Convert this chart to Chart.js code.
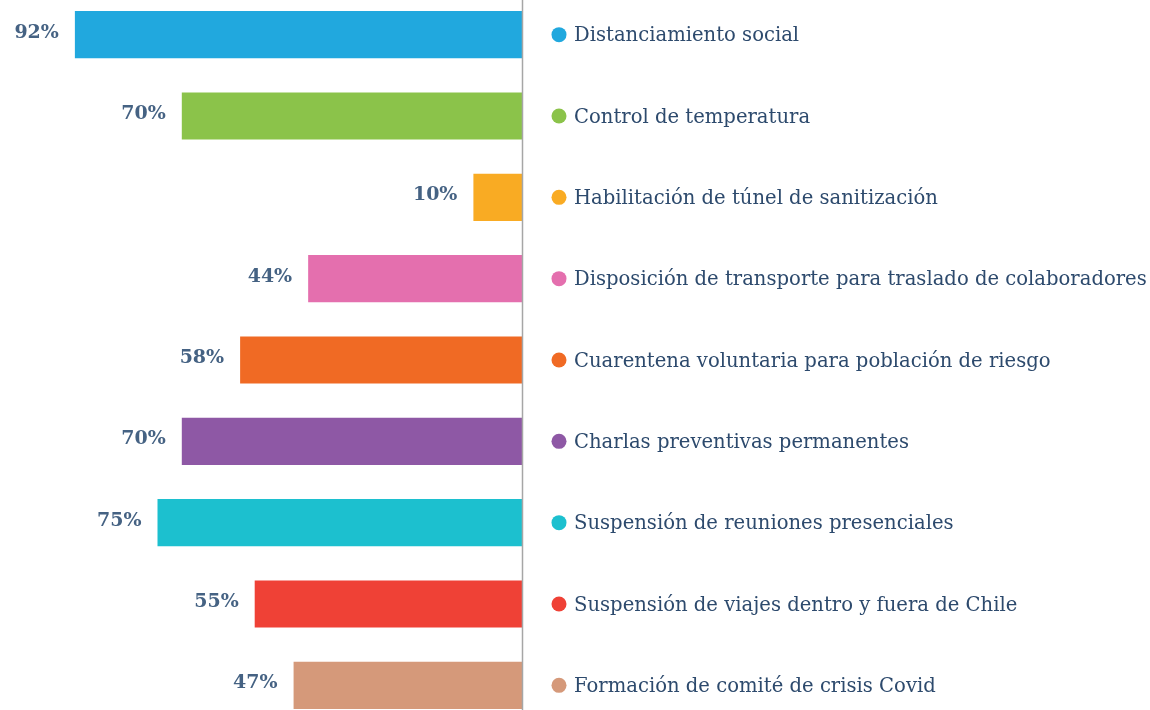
<!DOCTYPE html>
<html>
<head>
<meta charset="utf-8">
<script src="https://cdn.jsdelivr.net/npm/chart.js@4"></script>
<style>
    html, body { margin: 0; padding: 0; background: #fff; overflow: hidden; }
    #wrap { position: absolute; left: 0; top: -6px; width: 1150px; height: 732px; }
</style>
</head>
<body>
<div id="wrap"><canvas id="chart"></canvas></div>
<script>
// Chart data
const categories = [
    "Distanciamiento social",
    "Control de temperatura",
    "Habilitación de túnel de sanitización",
    "Disposición de transporte para traslado de colaboradores",
    "Cuarentena voluntaria para población de riesgo",
    "Charlas preventivas permanentes",
    "Suspensión de reuniones presenciales",
    "Suspensión de viajes dentro y fuera de Chile",
    "Formación de comité de crisis Covid"
];
const values = [92, 70, 10, 44, 58, 70, 75, 55, 47];
const barColors = ["#21a8de", "#8bc34a", "#f9ab23", "#e46fae", "#f06a24", "#8e58a5", "#1cc0cf", "#ef4136", "#d5997a"];

const textColor = "#2d4a6d";
const valueColor = "#456283";

// Draws the axis line, the percentage labels and the dotted legend on the right
const annotate = {
    id: "annotate",
    afterDatasetsDraw(chart) {
        const { ctx, chartArea } = chart;
        const meta = chart.getDatasetMeta(0);
        ctx.save();

        // vertical axis line
        ctx.strokeStyle = "#a6a6a6";
        ctx.lineWidth = 1.5;
        ctx.beginPath();
        ctx.moveTo(chartArea.right + 0.5, 0);
        ctx.lineTo(chartArea.right + 0.5, chart.height);
        ctx.stroke();

        meta.data.forEach((bar, i) => {
            // value label, left of the bar end
            ctx.font = "bold 19px 'DejaVu Serif'";
            ctx.fillStyle = valueColor;
            ctx.textAlign = "right";
            ctx.textBaseline = "middle";
            ctx.fillText(values[i] + "%", bar.x - 16, bar.y - 2);

            // legend dot + category text
            const lx = chartArea.right + 37;
            ctx.fillStyle = barColors[i];
            ctx.beginPath();
            ctx.arc(lx, bar.y, 7.5, 0, Math.PI * 2);
            ctx.fill();

            ctx.font = "19.6px 'DejaVu Serif'";
            ctx.fillStyle = textColor;
            ctx.textAlign = "left";
            ctx.fillText(categories[i], lx + 15, bar.y + 1.5);
        });
        ctx.restore();
    }
};

new Chart(document.getElementById("chart"), {
    type: "bar",
    data: {
        labels: categories,
        datasets: [{
            data: values,
            backgroundColor: barColors,
            borderWidth: 0,
            categoryPercentage: 1,
            barPercentage: 0.58
        }]
    },
    options: {
        indexAxis: "y",
        responsive: true,
        maintainAspectRatio: false,
        animation: false,
        layout: { padding: { left: 36, right: 628, top: 0, bottom: 0 } },
        scales: {
            x: { display: false, reverse: true, min: 0, max: 100 },
            y: { display: false }
        },
        plugins: {
            legend: { display: false },
            tooltip: { enabled: false }
        }
    },
    plugins: [annotate]
});
</script>
</body>
</html>
